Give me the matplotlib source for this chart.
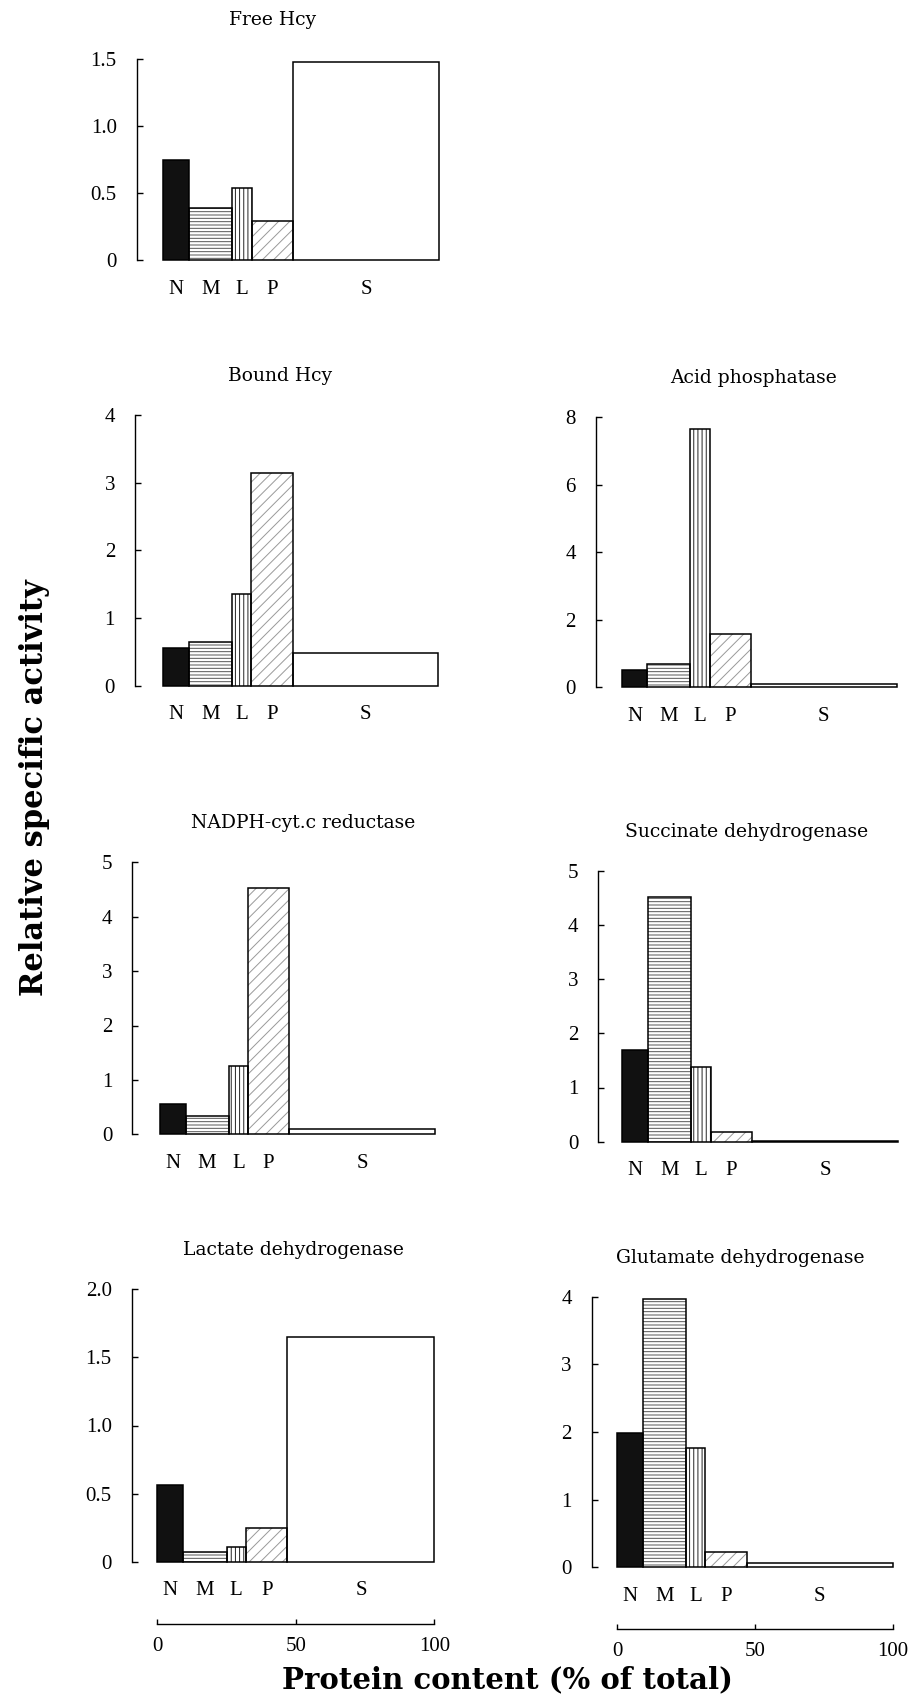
import matplotlib
matplotlib.use("Agg")
import matplotlib.pyplot as plt
import matplotlib.transforms as mtransforms
import numpy as np

# ---------------- data ----------------
fractions = ["N", "M", "L", "P", "S"]
protein_content = [9.3, 15.7, 7.0, 15.0, 53.0]   # % of total protein (bar widths)

free_hcy = [0.75, 0.39, 0.54, 0.29, 1.48]
bound_hcy = [0.55, 0.64, 1.36, 3.15, 0.49]
acid_phosphatase = [0.51, 0.69, 7.64, 1.57, 0.10]
nadph_reductase = [0.55, 0.34, 1.26, 4.52, 0.10]
succinate_dh = [1.70, 4.51, 1.37, 0.18, 0.02]
lactate_dh = [0.56, 0.07, 0.11, 0.245, 1.65]
glutamate_dh = [1.98, 3.96, 1.77, 0.23, 0.06]

titles = ["Free Hcy", "Bound Hcy", "Acid phosphatase", "NADPH-cyt.c reductase",
          "Succinate dehydrogenase", "Lactate dehydrogenase", "Glutamate dehydrogenase"]
yticks_free = [0, 0.5, 1.0, 1.5]
yticks_bound = [0, 1, 2, 3, 4]
yticks_acid = [0, 2, 4, 6, 8]
yticks_nadph = [0, 1, 2, 3, 4, 5]
yticks_succ = [0, 1, 2, 3, 4, 5]
yticks_lact = [0, 0.5, 1.0, 1.5, 2.0]
yticks_glut = [0, 1, 2, 3, 4]
xticks_protein = [0, 50, 100]

# ---------------- style ----------------
W, H = 917, 1703
DPI = 100
plt.rcParams["hatch.linewidth"] = 0.7
SERIF = ["Liberation Serif", "DejaVu Serif"]

fills = [
    dict(facecolor="#111111", hatch=None, hcolor="#111111"),
    dict(facecolor="white", hatch="-----", hcolor="#555555"),
    dict(facecolor="white", hatch="||||", hcolor="#222222"),
    dict(facecolor="white", hatch="///", hcolor="#999999"),
    dict(facecolor="white", hatch=None, hcolor="white"),
]

fig = plt.figure(figsize=(W / DPI, H / DPI), dpi=DPI)


def px2pt(p):
    return p * 72.0 / DPI


def add_panel(values, title, yticks, ytlabels, spine_x, bar0_x, bar100_x, top_y, zero_y,
              title_x, protein_axis=False):
    left = spine_x / W
    bottom = 1 - zero_y / H
    width = (bar100_x + 4 - spine_x) / W
    height = (zero_y - top_y) / H
    ax = fig.add_axes([left, bottom, width, height])
    pxper = (bar100_x - bar0_x) / 100.0
    ax.set_xlim(-(bar0_x - spine_x) / pxper, 100 + 4 / pxper)
    ax.set_ylim(0, yticks[-1])

    lefts = np.concatenate([[0], np.cumsum(protein_content)[:-1]])
    for i in range(len(fractions)):
        f = fills[i]
        if f["hatch"]:
            ax.bar(lefts[i], values[i], width=protein_content[i], align="edge",
                   facecolor=f["facecolor"], edgecolor=f["hcolor"], linewidth=0,
                   hatch=f["hatch"], clip_on=False, zorder=2)
        else:
            ax.bar(lefts[i], values[i], width=protein_content[i], align="edge",
                   facecolor=f["facecolor"], edgecolor="none", linewidth=0,
                   clip_on=False, zorder=2)
        ax.bar(lefts[i], values[i], width=protein_content[i], align="edge",
               fill=False, edgecolor="black", linewidth=1.1, clip_on=False, zorder=3)

    # fraction letters under the bars
    trans = mtransforms.offset_copy(ax.get_xaxis_transform(), fig=fig, x=0, y=-29, units="dots")
    for i, lab in enumerate(fractions):
        ax.text(lefts[i] + protein_content[i] / 2, 0, lab, transform=trans,
                ha="center", va="center", fontsize=15, family=SERIF)

    for s in ["top", "right"]:
        ax.spines[s].set_visible(False)
    ax.spines["left"].set_linewidth(1.0)
    ax.spines["left"].set_bounds(0, yticks[-1])
    ax.set_yticks(yticks)
    ax.set_yticklabels(ytlabels, family=SERIF, fontsize=15)
    ax.tick_params(axis="y", direction="in", length=px2pt(6), width=1.0, pad=px2pt(20))

    if protein_axis:
        ax.spines["bottom"].set_position(("outward", px2pt(62)))
        ax.spines["bottom"].set_bounds(0, 100)
        ax.spines["bottom"].set_linewidth(1.0)
        ax.set_xticks(xticks_protein)
        ax.set_xticklabels([str(t) for t in xticks_protein], family=SERIF, fontsize=15)
        ax.tick_params(axis="x", direction="in", length=px2pt(5), width=1.0, pad=px2pt(13))
    else:
        ax.spines["bottom"].set_visible(False)
        ax.set_xticks([])

    fig.text(title_x / W, 1 - (top_y - 39) / H, title, ha="center", va="center",
             fontsize=13.5, family=["DejaVu Serif"])
    return ax


add_panel(free_hcy, titles[0], yticks_free, ["0", "0.5", "1.0", "1.5"],
          136.7, 163.3, 439, 59.3, 260, 273)
add_panel(bound_hcy, titles[1], yticks_bound, [str(t) for t in yticks_bound],
          135, 163.3, 438.3, 415, 685.7, 280)
add_panel(acid_phosphatase, titles[2], yticks_acid, [str(t) for t in yticks_acid],
          595.7, 621.7, 896.7, 417.3, 687.3, 753)
add_panel(nadph_reductase, titles[3], yticks_nadph, [str(t) for t in yticks_nadph],
          132.3, 160, 435, 862.3, 1134.3, 303)
add_panel(succinate_dh, titles[4], yticks_succ, [str(t) for t in yticks_succ],
          598.3, 622.3, 898.3, 870.7, 1141.7, 747)
add_panel(lactate_dh, titles[5], yticks_lact, ["0", "0.5", "1.0", "1.5", "2.0"],
          131.7, 157.3, 434.3, 1289.3, 1561.7, 293, protein_axis=True)
add_panel(glutamate_dh, titles[6], yticks_glut, [str(t) for t in yticks_glut],
          591.7, 617.3, 892.7, 1296.7, 1567.3, 740, protein_axis=True)

fig.text(35 / W, 1 - 788 / H, "Relative specific activity", rotation=90,
         ha="center", va="center", fontsize=22, fontweight="bold", family=["DejaVu Serif"])
fig.text(507 / W, 1 - 1680 / H, "Protein content (% of total)",
         ha="center", va="center", fontsize=21, fontweight="bold", family=["DejaVu Serif"])

fig.savefig("out.png", dpi=DPI)
